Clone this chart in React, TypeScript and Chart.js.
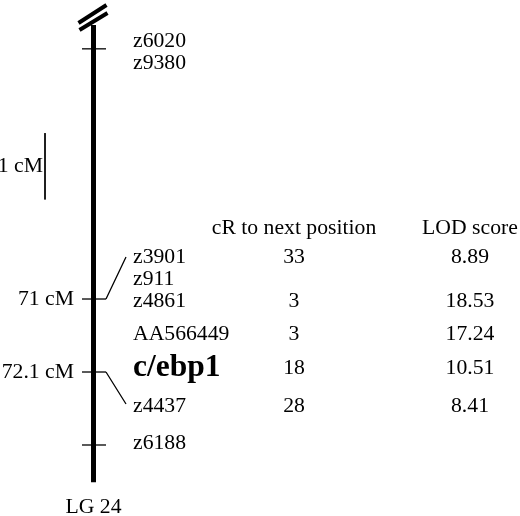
import { useEffect, useRef } from "react";
import { Chart, registerables } from "chart.js";

Chart.register(...registerables);

// Marker names, top to bottom, with the table values for each row (null = no entry)
const markers = ["z6020", "z9380", "z3901", "z911", "z4861", "AA566449", "c/ebp1", "z4437", "z6188"];
const cRToNext = [null, null, 33, null, 3, 3, 18, 28, null];
const lodScores = [null, null, "8.89", null, "18.53", "17.24", "10.51", "8.41", null];
const boldMarker = "c/ebp1";

// Map positions (cM) of the tick marks on the linkage group
const tickPositions = [67.23, 71, 72.1, 73.2];
const labelledTicks = [71, 72.1];
const tickLabels = ["71 cM", "72.1 cM"];

// Extent of the drawn chromosome and the 1 cM scale bar (cM)
const chromosomeSpan = [66.87, 73.76];
const scaleBarSpan = [68.5, 69.5];
const groupName = "LG 24";

// Layout (pixels)
const LABEL_ROWS = [41, 63, 257, 279, 301, 334, 368, 406, 443];
const CHROM_X = 93.5;
const TICK_X0 = 82;
const TICK_X1 = 106;
const LABEL_X = 133;
const CR_X = 294;
const LOD_X = 470;
const HEADER_Y = 228;
const SCALE_X = 45;
const FONT = '"Liberation Serif", "Times New Roman", serif';
const TEXT_SIZE = 21.7;

const seg = (x0: number, y0: number, x1: number, y1: number, width: number) => ({
  data: [
    { x: x0, y: y0 },
    { x: x1, y: y1 },
  ],
  showLine: true,
  borderColor: "#000",
  borderWidth: width,
  borderCapStyle: "butt" as const,
  pointRadius: 0,
  pointHoverRadius: 0,
});

const textPlugin = {
  id: "mapText",
  afterDraw(chart: Chart) {
    const ctx = chart.ctx;
    const y = chart.scales.y;
    ctx.save();
    ctx.fillStyle = "#000";
    ctx.strokeStyle = "#000";

    // break marks at the top of the group
    const top = y.getPixelForValue(chromosomeSpan[0]);
    ctx.lineWidth = 4;
    ctx.lineCap = "butt";
    ctx.beginPath();
    ctx.moveTo(CHROM_X - 14, top + 5);
    ctx.lineTo(CHROM_X + 14, top - 12);
    ctx.moveTo(CHROM_X - 15, top - 2);
    ctx.lineTo(CHROM_X + 13, top - 20);
    ctx.stroke();

    // connectors from ticks to spread-out labels
    ctx.lineWidth = 1.3;
    const y71 = y.getPixelForValue(labelledTicks[0]);
    const y72 = y.getPixelForValue(labelledTicks[1]);
    ctx.beginPath();
    ctx.moveTo(TICK_X1, y71);
    ctx.lineTo(126, LABEL_ROWS[2]);
    ctx.moveTo(TICK_X1, y72);
    ctx.lineTo(126, LABEL_ROWS[7] - 2);
    ctx.stroke();

    ctx.textBaseline = "middle";

    // marker names
    ctx.textAlign = "left";
    markers.forEach((m, i) => {
      ctx.font = m === boldMarker ? `bold 31.5px ${FONT}` : `${TEXT_SIZE}px ${FONT}`;
      ctx.fillText(m, LABEL_X, LABEL_ROWS[i]);
    });

    // table
    ctx.font = `${TEXT_SIZE}px ${FONT}`;
    ctx.textAlign = "center";
    ctx.fillText("cR to next position", CR_X, HEADER_Y);
    ctx.fillText("LOD score", LOD_X, HEADER_Y);
    markers.forEach((_, i) => {
      if (cRToNext[i] !== null) ctx.fillText(String(cRToNext[i]), CR_X, LABEL_ROWS[i]);
      if (lodScores[i] !== null) ctx.fillText(String(lodScores[i]), LOD_X, LABEL_ROWS[i]);
    });

    // cM labels
    ctx.textAlign = "right";
    labelledTicks.forEach((v, i) => {
      ctx.fillText(tickLabels[i], 74, y.getPixelForValue(v));
    });
    ctx.fillText("1 cM", 43, y.getPixelForValue((scaleBarSpan[0] + scaleBarSpan[1]) / 2));

    // group name
    ctx.textAlign = "center";
    ctx.fillText(groupName, CHROM_X, y.getPixelForValue(chromosomeSpan[1]) + 25);
    ctx.restore();
  },
};

export default function App() {
  const chartRef = useRef<HTMLCanvasElement>(null);
  const chartInstance = useRef<Chart | null>(null);

  useEffect(() => {
    if (!chartRef.current) return;
    if (chartInstance.current) chartInstance.current.destroy();

    const datasets = [
      seg(CHROM_X, chromosomeSpan[0], CHROM_X, chromosomeSpan[1], 5),
      ...tickPositions.map((p) => seg(TICK_X0, p, TICK_X1, p, 1.3)),
      seg(SCALE_X, scaleBarSpan[0], SCALE_X, scaleBarSpan[1], 1),
    ];

    chartInstance.current = new Chart(chartRef.current, {
      type: "scatter",
      data: { datasets },
      options: {
        animation: false,
        responsive: true,
        maintainAspectRatio: false,
        layout: { padding: 0 },
        plugins: { legend: { display: false }, tooltip: { enabled: false } },
        events: [],
        scales: {
          x: { type: "linear", display: false, min: 0, max: 520 },
          y: { type: "linear", display: false, min: 66.494, max: 74.27, reverse: true },
        },
      },
      plugins: [textPlugin],
    });

    return () => {
      if (chartInstance.current) {
        chartInstance.current.destroy();
        chartInstance.current = null;
      }
    };
  }, []);

  return (
    <div style={{ position: "absolute", left: 0, top: 0, width: 520, height: 516, background: "#fff" }}>
      <canvas ref={chartRef}></canvas>
    </div>
  );
}
